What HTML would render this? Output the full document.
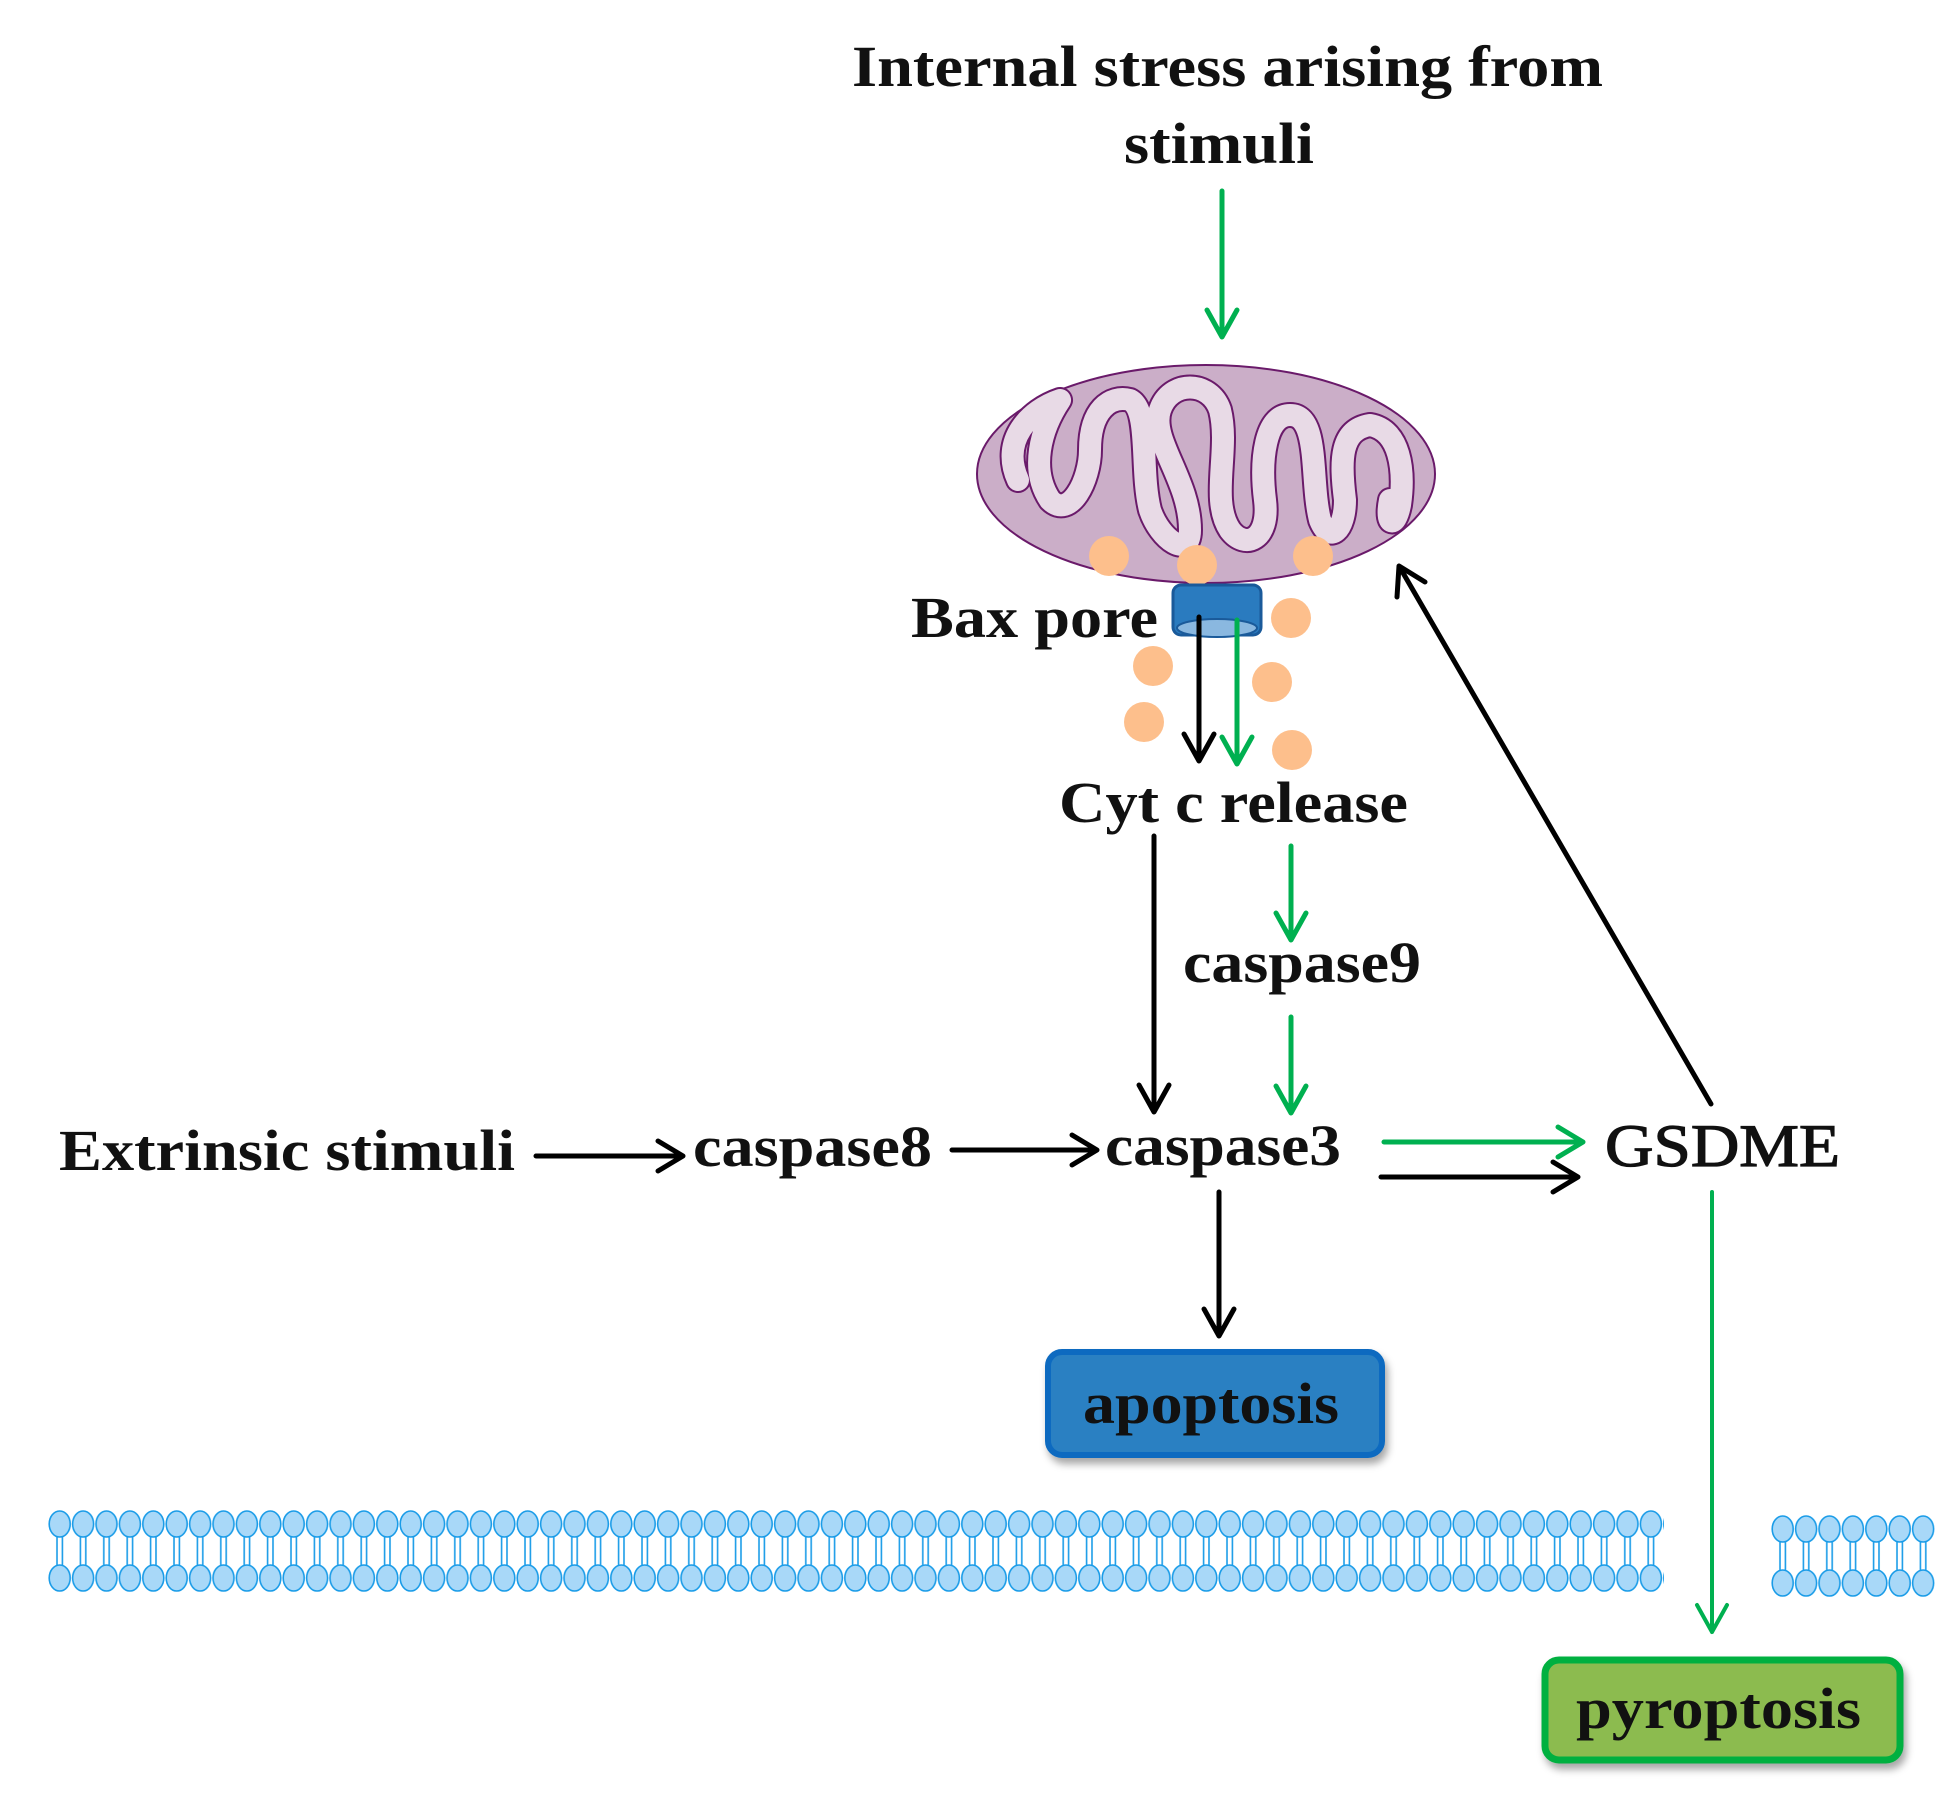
<!DOCTYPE html>
<html><head><meta charset="utf-8"><style>
html,body{margin:0;padding:0;background:#fff}
svg{display:block}
text{font-family:"Liberation Serif",serif;font-weight:bold;fill:#111}
</style></head><body>
<svg width="1960" height="1812" viewBox="0 0 1960 1812" xmlns="http://www.w3.org/2000/svg">
<defs>
<pattern id="lip" x="48" y="0" width="23.4" height="1812" patternUnits="userSpaceOnUse">
<line x1="9" y1="1535" x2="9" y2="1568" stroke="#1a9ce8" stroke-width="1.6"/>
<line x1="14.4" y1="1535" x2="14.4" y2="1568" stroke="#1a9ce8" stroke-width="1.6"/>
<ellipse cx="11.7" cy="1524" rx="10.5" ry="13" fill="#a8d8f8" stroke="#1a9ce8" stroke-width="1.6"/>
<ellipse cx="11.7" cy="1578" rx="10.5" ry="13" fill="#a8d8f8" stroke="#1a9ce8" stroke-width="1.6"/>
</pattern>
<pattern id="lip2" x="1771" y="0" width="23.4" height="1812" patternUnits="userSpaceOnUse">
<line x1="9" y1="1540" x2="9" y2="1573" stroke="#1a9ce8" stroke-width="1.6"/>
<line x1="14.4" y1="1540" x2="14.4" y2="1573" stroke="#1a9ce8" stroke-width="1.6"/>
<ellipse cx="11.7" cy="1529" rx="10.5" ry="13" fill="#a8d8f8" stroke="#1a9ce8" stroke-width="1.6"/>
<ellipse cx="11.7" cy="1583" rx="10.5" ry="13" fill="#a8d8f8" stroke="#1a9ce8" stroke-width="1.6"/>
</pattern>
<filter id="sh" x="-10%" y="-10%" width="130%" height="140%"><feDropShadow dx="3" dy="6" stdDeviation="4" flood-color="#000" flood-opacity="0.35"/></filter>
</defs>

<text x="852" y="86" font-size="58" textLength="751" lengthAdjust="spacingAndGlyphs">Internal stress arising from</text>
<text x="1124" y="163" font-size="58" textLength="190" lengthAdjust="spacingAndGlyphs">stimuli</text>

<ellipse cx="1206" cy="474" rx="229" ry="109" fill="#cbaec8" stroke="#6a1a6a" stroke-width="2"/>
<path d="M1018,480 C1000,440 1030,410 1060,400 C1040,430 1030,470 1050,500 C1070,520 1090,480 1090,450 C1090,410 1110,395 1130,400 C1150,410 1140,470 1150,510 C1160,540 1190,560 1190,530 C1190,480 1150,440 1160,410 C1170,380 1210,380 1220,410 C1230,450 1210,500 1230,530 C1245,550 1270,540 1265,500 C1260,460 1265,415 1290,415 C1320,415 1310,480 1320,520 C1330,545 1345,530 1345,500 C1340,460 1340,430 1370,425 C1400,430 1405,470 1400,505 C1395,530 1385,525 1390,500"
 fill="none" stroke="#6a1a6a" stroke-width="26" stroke-linecap="round" stroke-linejoin="round"/>
<path d="M1018,480 C1000,440 1030,410 1060,400 C1040,430 1030,470 1050,500 C1070,520 1090,480 1090,450 C1090,410 1110,395 1130,400 C1150,410 1140,470 1150,510 C1160,540 1190,560 1190,530 C1190,480 1150,440 1160,410 C1170,380 1210,380 1220,410 C1230,450 1210,500 1230,530 C1245,550 1270,540 1265,500 C1260,460 1265,415 1290,415 C1320,415 1310,480 1320,520 C1330,545 1345,530 1345,500 C1340,460 1340,430 1370,425 C1400,430 1405,470 1400,505 C1395,530 1385,525 1390,500"
 fill="none" stroke="#e8dae6" stroke-width="22" stroke-linecap="round" stroke-linejoin="round"/>

<g fill="#fdbf8c">
<circle cx="1109" cy="556" r="20"/><circle cx="1197" cy="565" r="20"/><circle cx="1313" cy="556" r="20"/>
<circle cx="1291" cy="618" r="20"/><circle cx="1153" cy="666" r="20"/><circle cx="1272" cy="682" r="20"/>
<circle cx="1144" cy="722" r="20"/><circle cx="1292" cy="750" r="20"/>
</g>

<rect x="1173" y="585" width="88" height="50" rx="8" fill="#2a7bbf" stroke="#1a5a9a" stroke-width="3"/>
<ellipse cx="1217" cy="628" rx="40" ry="9" fill="#8ab8e0" stroke="#1a5a9a" stroke-width="2"/>
<text x="911" y="637" font-size="58" textLength="247" lengthAdjust="spacingAndGlyphs">Bax pore</text>

<g fill="none" stroke-width="5" stroke-linecap="round" stroke-linejoin="round">
<g stroke="#00b050">
<path d="M1222,191 V337 M1207,310 L1222,337 L1237,310"/>
<path d="M1237,620 V764 M1222,737 L1237,764 L1252,737"/>
<path d="M1291,846 V940 M1276,913 L1291,940 L1306,913"/>
<path d="M1291,1017 V1113 M1276,1086 L1291,1113 L1306,1086"/>
<path d="M1384,1142 H1583 M1558,1127 L1583,1142 L1558,1157"/>
<path d="M1712,1192 V1632 M1697,1605 L1712,1632 L1727,1605" stroke-width="4"/>
</g>
<g stroke="#000">
<path d="M1199,617 V761 M1184,734 L1199,761 L1214,734"/>
<path d="M1154,836 V1112 M1139,1085 L1154,1112 L1169,1085"/>
<path d="M536,1156 H683 M658,1141 L683,1156 L658,1171"/>
<path d="M952,1150 H1097 M1072,1135 L1097,1150 L1072,1165"/>
<path d="M1381,1177 H1578 M1553,1162 L1578,1177 L1553,1192"/>
<path d="M1219,1192 V1336 M1204,1309 L1219,1336 L1234,1309"/>
<path d="M1711,1104 L1399,566 M1397,597 L1399,566 L1425,582"/>
</g>
</g>

<text x="1059" y="822" font-size="58" textLength="349" lengthAdjust="spacingAndGlyphs">Cyt c release</text>
<text x="1183" y="982" font-size="58" textLength="238" lengthAdjust="spacingAndGlyphs">caspase9</text>
<text x="59" y="1170" font-size="58" textLength="456" lengthAdjust="spacingAndGlyphs">Extrinsic stimuli</text>
<text x="693" y="1166" font-size="58" textLength="239" lengthAdjust="spacingAndGlyphs">caspase8</text>
<text x="1105" y="1165" font-size="58" textLength="236" lengthAdjust="spacingAndGlyphs">caspase3</text>
<text x="1605" y="1166" font-size="60" style="font-weight:normal;stroke:#111;stroke-width:1.2" textLength="235" lengthAdjust="spacingAndGlyphs">GSDME</text>

<rect x="1048" y="1352" width="334" height="103" rx="14" fill="#2a80c2" stroke="#0a6ac0" stroke-width="6" filter="url(#sh)"/>
<text x="1083" y="1423" font-size="58" textLength="256" lengthAdjust="spacingAndGlyphs">apoptosis</text>

<rect x="48" y="1505" width="1616" height="92" fill="url(#lip)"/>
<rect x="1771" y="1510" width="164" height="92" fill="url(#lip2)"/>

<rect x="1545" y="1660" width="355" height="100" rx="14" fill="#8cbb50" stroke="#00b040" stroke-width="7" filter="url(#sh)"/>
<text x="1576" y="1728" font-size="58" textLength="285" lengthAdjust="spacingAndGlyphs">pyroptosis</text>
</svg>
</body></html>
